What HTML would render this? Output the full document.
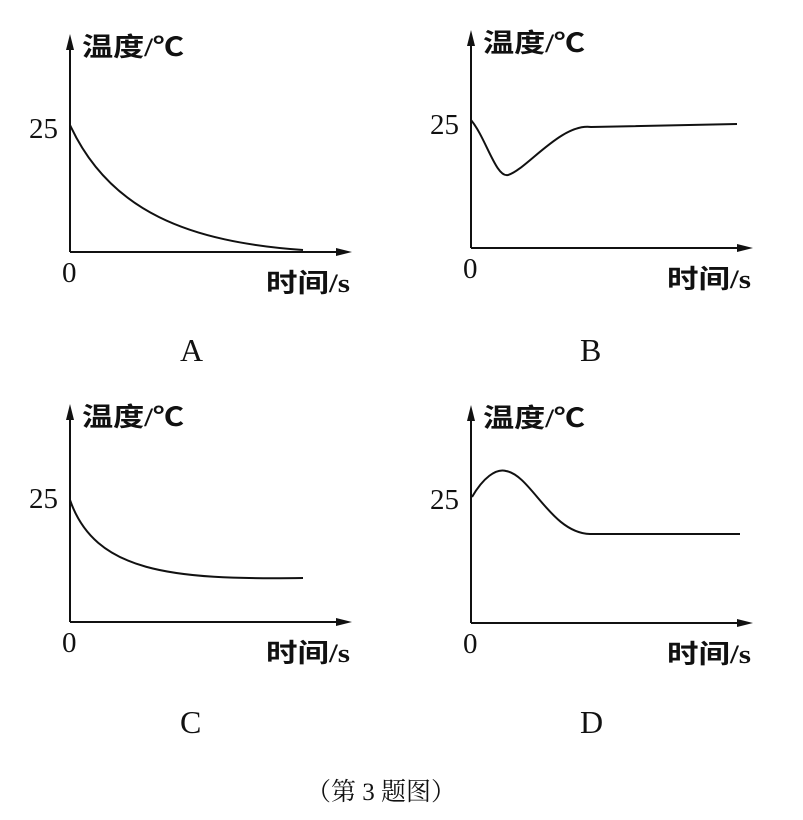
<!DOCTYPE html>
<html><head><meta charset="utf-8"><style>
html,body{margin:0;padding:0;background:#fff}
svg{display:block}
.l{font-family:"Liberation Serif","Noto Sans CJK SC",sans-serif;font-size:26px;font-weight:bold;fill:#111}
.n{font-family:"Liberation Serif","Noto Serif CJK SC",serif;font-size:29px;fill:#111}
.c{font-family:"Liberation Serif","Noto Serif CJK SC",serif;font-size:25px;fill:#111}
</style></head><body>
<svg width="803" height="820" viewBox="0 0 803 820">
<defs>
<g id="ax">
<line x1="0" y1="0" x2="0" y2="-210" stroke="#111" stroke-width="2"/>
<polygon points="0,-218 -4,-202 4,-202" fill="#111"/>
<line x1="0" y1="0" x2="272" y2="0" stroke="#111" stroke-width="2"/>
<polygon points="282,0 266,-4 266,4" fill="#111"/>
<text class="l" x="12" y="-196" textLength="102" lengthAdjust="spacingAndGlyphs">温度/℃</text>
<text class="l" x="196" y="40" textLength="84" lengthAdjust="spacingAndGlyphs">时间/s</text>
<text class="n" x="-8" y="30">0</text>
<text class="n" x="-41" y="-114">25</text>
</g>
</defs>
<g transform="translate(70,252)"><use href="#ax"/>
<path d="M0,-127 C40,-40 120,-10 233,-2" fill="none" stroke="#111" stroke-width="2"/></g>
<g transform="translate(471,248)"><use href="#ax"/>
<path d="M0,-128 C15,-110 25,-70 37,-73 C55,-78 90,-125 120,-121 L266,-124" fill="none" stroke="#111" stroke-width="2"/></g>
<g transform="translate(70,622)"><use href="#ax"/>
<path d="M0,-122 C25,-50 100,-42 233,-44" fill="none" stroke="#111" stroke-width="2"/></g>
<g transform="translate(471,623)"><use href="#ax"/>
<path d="M1,-126 C12,-145 25,-155 35,-152 C60,-148 80,-90 119,-89 L269,-89" fill="none" stroke="#111" stroke-width="2"/></g>
<text class="n" x="180" y="361" style="font-size:32px">A</text>
<text class="n" x="580" y="361" style="font-size:32px">B</text>
<text class="n" x="180" y="733" style="font-size:32px">C</text>
<text class="n" x="580" y="733" style="font-size:32px">D</text>
<text class="c" x="306" y="800">（第 3 题图）</text>
</svg>
</body></html>
